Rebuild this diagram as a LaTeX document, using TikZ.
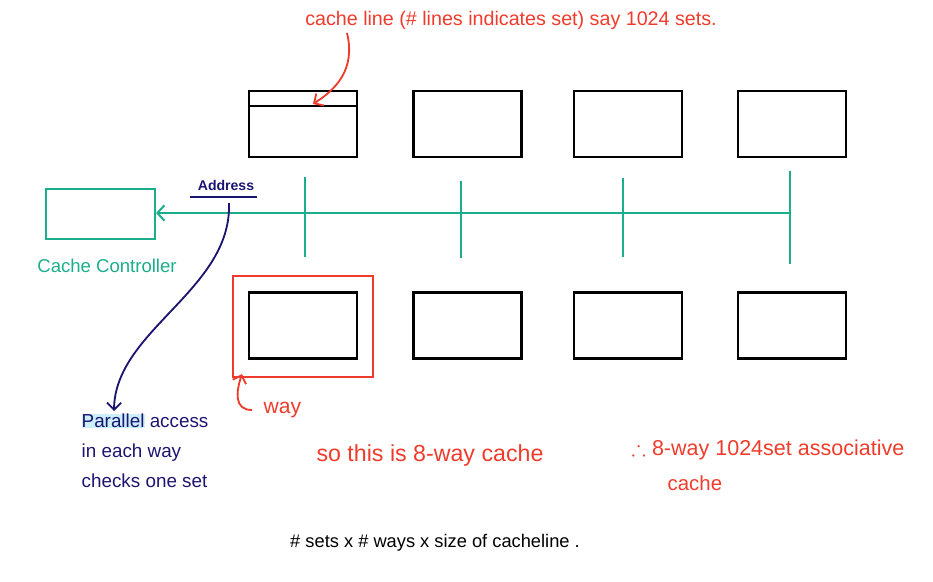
\documentclass[tikz,border=0pt]{standalone}
\usepackage{amssymb}
\usepackage{fontspec}
\setmainfont{Liberation Sans}
\usepackage{xcolor}
\usetikzlibrary{calc,arrows.meta}

\definecolor{penred}{HTML}{EE3B2B}
\definecolor{pengreen}{HTML}{1BAE8C}
\definecolor{pennavy}{HTML}{1C1570}

\newcommand{\pensize}[1]{\fontsize{#1}{21.3}\selectfont}

\tikzset{
	waybox/.style={draw, line width=1.5pt, minimum width=2.7cm, minimum height=1.65cm, inner sep=0pt},
	bus/.style={draw=pengreen, line width=1.4pt},
	redpen/.style={draw=penred, line width=1.3pt, -{Straight Barb[length=5pt,width=10pt]}},
	navypen/.style={draw=pennavy, line width=1.3pt, -{Straight Barb[length=5pt,width=10pt]}},
	note/.style={font=\pensize{14}, inner sep=1pt}
}

\begin{document}
\begin{tikzpicture}[x=0.025cm,y=-0.025cm]
		\useasboundingbox (0,0) rectangle (933,581);
		% Draw the ways (top and bottom rows)
		\foreach \n/\x in {1/303,2/467.5,3/628,4/792} {
			\node[waybox] (t\n) at (\x,124) {};
			\node[waybox] (b\n) at (\x,325.5) {};
		}
		\draw[line width=1.5pt] (t1.north west) ++(0,16) -- ++(108,0);
		% one way
		\node[draw=penred, line width=1.4pt, minimum width=3.5cm, minimum height=2.525cm] (wayframe) at (303,326.5) {};

		% Draw the controller and bus
		\node[draw=pengreen, line width=1.5pt, minimum width=2.725cm, minimum height=1.25cm] (ctrl) at (100.5,214) {};
		\node[note, font=\pensize{13.2}, text=pengreen] (ctrllbl) at (107,266) {Cache Controller};
		\coordinate (busend) at (790,213);
		\draw[bus, -{Straight Barb[length=5pt,width=11pt]}] (busend) -- (ctrl.east |- busend);
		\foreach \x/\a/\b in {305/177/257,461/181/258,623/178/257,790/171/264}
		\draw[bus] (\x,\a) -- (\x,\b);

		% Address
		\node[note, font=\pensize{10}\bfseries, text=pennavy] (addr) at (226,185) {Address};
		\draw[draw=pennavy, line width=1.3pt] (190,197) -- (257,197);
		\node[note, font=\pensize{13.4}, text=pennavy, align=left, anchor=north west] (parallel) at (80,412)
			{{\fboxsep=0pt\colorbox{cyan!20}{Parallel}} access\\in each way\\checks one set};
		\coordinate (addrfoot) at (229,203);
		\coordinate (partop) at (114,411);
		\draw[navypen] (addrfoot) .. controls (232,290) and (115,330) .. (partop);

		% Labels in red
		\node[note, text=penred] (linecap) at (511,20) {cache line (\# lines indicates set) say 1024 sets.};
		\coordinate (capfoot) at (347,33);
		\coordinate (linetip) at (313,104);
		\draw[redpen] (capfoot) .. controls (356,70) and (335,90) .. (linetip);
		\node[note, font=\pensize{15}, text=penred, anchor=west] (waylbl) at (262,410) {way};
		\draw[redpen] (252,410) .. controls (234,410) and (236,392) .. ($(wayframe.south west)+(10,-4)$);
		\node[note, font=\pensize{16.5}, text=penred] (eightway) at (430,455) {so this is 8-way cache};
		\node[note, font=\pensize{15.3}, text=penred, anchor=west] (assoc) at (630,450) {$\therefore$ 8-way 1024set associative};
		\node[note, font=\pensize{14.5}, text=penred, anchor=west] (assoc2) at (666,483) {cache};

		% size
		\node[note, font=\pensize{13}] (sizecap) at (435,543) {\# sets x \# ways x size of cacheline .};
	\end{tikzpicture}
\end{document}
